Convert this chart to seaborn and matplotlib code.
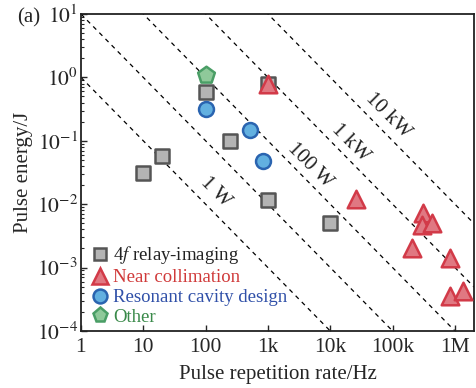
import numpy as np
import pandas as pd
import matplotlib
matplotlib.use("Agg")
import matplotlib.pyplot as plt
import seaborn as sns
from matplotlib.lines import Line2D

# ---- data ----
relay_f = [10, 20, 100, 250, 1000, 1000, 10000]
relay_E = [0.031, 0.057, 0.59, 0.10, 0.80, 0.0117, 0.005]

near_f = [1000, 26000, 310000, 300000, 430000, 205000, 840000, 830000, 1350000]
near_E = [0.80, 0.012, 0.0072, 0.0047, 0.0050, 0.0020, 0.0014, 0.00035, 0.00042]

reso_f = [100, 510, 830]
reso_E = [0.32, 0.15, 0.048]

other_f = [100]
other_E = [1.1]

iso_powers = [1, 10, 100, 1000, 10000]
iso_labels = ["1 W", "100 W", "1 kW", "10 kW"]
iso_label_f = [147, 4800, 20800, 85000]
iso_label_E = [0.0155, 0.040, 0.093, 0.25]

xticks = [1, 10, 100, 1e3, 1e4, 1e5, 1e6]
xticklabels = ["1", "10", "100", "1k", "10k", "100k", "1M"]
yticks = [1e-4, 1e-3, 1e-2, 1e-1, 1e0, 1e1]
yticklabels = [r"$10^{-4}$", r"$10^{-3}$", r"$10^{-2}$", r"$10^{-1}$", r"$10^{0}$", r"$10^{1}$"]

legend_labels = [r"4$f$ relay-imaging", "Near collimation", "Resonant cavity design", "Other"]

# ---- style ----
sns.set_style("ticks")
plt.rcParams["font.family"] = ["Liberation Serif", "DejaVu Serif"]
plt.rcParams["mathtext.fontset"] = "stix"
plt.rcParams["axes.linewidth"] = 1.3

fig = plt.figure(figsize=(4.76, 3.88), dpi=100)
ax = fig.add_axes([0.170, 0.147, 0.826, 0.817])

# iso-power dashed lines
fgrid = np.logspace(0, 6.4, 200)
for P in iso_powers:
    sns.lineplot(x=fgrid, y=P / fgrid, ax=ax, color="black", lw=0.9,
                 linestyle=(0, (3.5, 3.5)), zorder=1)

for lab, lf, le in zip(iso_labels, iso_label_f, iso_label_E):
    ax.text(lf, le, lab, rotation=-45, ha="center", va="center", fontsize=15,
            rotation_mode="anchor", color="#222222")

styles = [
    (relay_f, relay_E, "s", "#b4b4b4", "#555555", 90),
    (reso_f, reso_E, "o", "#62b0e0", "#2a64b0", 115),
    (other_f, other_E, "p", "#8fc99a", "#4a9e66", 160),
    (near_f, near_E, "^", "#e07882", "#d23a48", 160),
]
for fx, ey, m, fc, ec, s in styles:
    df = pd.DataFrame({"f": fx, "E": ey})
    sns.scatterplot(data=df, x="f", y="E", ax=ax, marker=m, s=s, color=fc,
                    edgecolor=ec, linewidth=1.8, zorder=3, legend=False)

ax.set_xscale("log")
ax.set_yscale("log")
ax.set_xlim(1, 2.03e6)
ax.set_ylim(1e-4, 10)
ax.set_xticks(xticks)
ax.set_xticklabels(xticklabels)
ax.set_yticks(yticks)
ax.set_yticklabels(yticklabels)
ax.tick_params(which="both", direction="in", labelsize=15.5)
ax.tick_params(which="major", length=4, width=1)
ax.tick_params(axis="x", which="major", pad=5)
ax.tick_params(axis="y", which="major", pad=2)
ax.tick_params(which="minor", length=2, width=0.8)
ax.set_xlabel("Pulse repetition rate/Hz", fontsize=15, labelpad=6)
ax.set_ylabel("Pulse energy/J", fontsize=15, labelpad=3)
for sp in ax.spines.values():
    sp.set_visible(True)
    sp.set_color("#222222")

handles = [
    Line2D([], [], marker="s", ls="", ms=9, mfc="#b4b4b4", mec="#555555", mew=1.8),
    Line2D([], [], marker="^", ms=12, ls="", mfc="#e07882", mec="#d23a48", mew=1.8),
    Line2D([], [], marker="o", ms=10, ls="", mfc="#62b0e0", mec="#2a64b0", mew=1.8),
    Line2D([], [], marker="p", ms=11, ls="", mfc="#8fc99a", mec="#4a9e66", mew=1.8),
]
ax.legend(handles, legend_labels, loc="lower left", frameon=False, fontsize=13.5,
          labelcolor=["#222222", "#d03a3a", "#3050a8", "#3a8a4a"],
          handlelength=0.8, handletextpad=0.3, labelspacing=0.15,
          bbox_to_anchor=(0.0, -0.02), borderaxespad=0.2, borderpad=0.4)

fig.text(0.035, 0.955, "(a)", fontsize=15, ha="left", va="center")

fig.savefig("out.png", dpi=100)
